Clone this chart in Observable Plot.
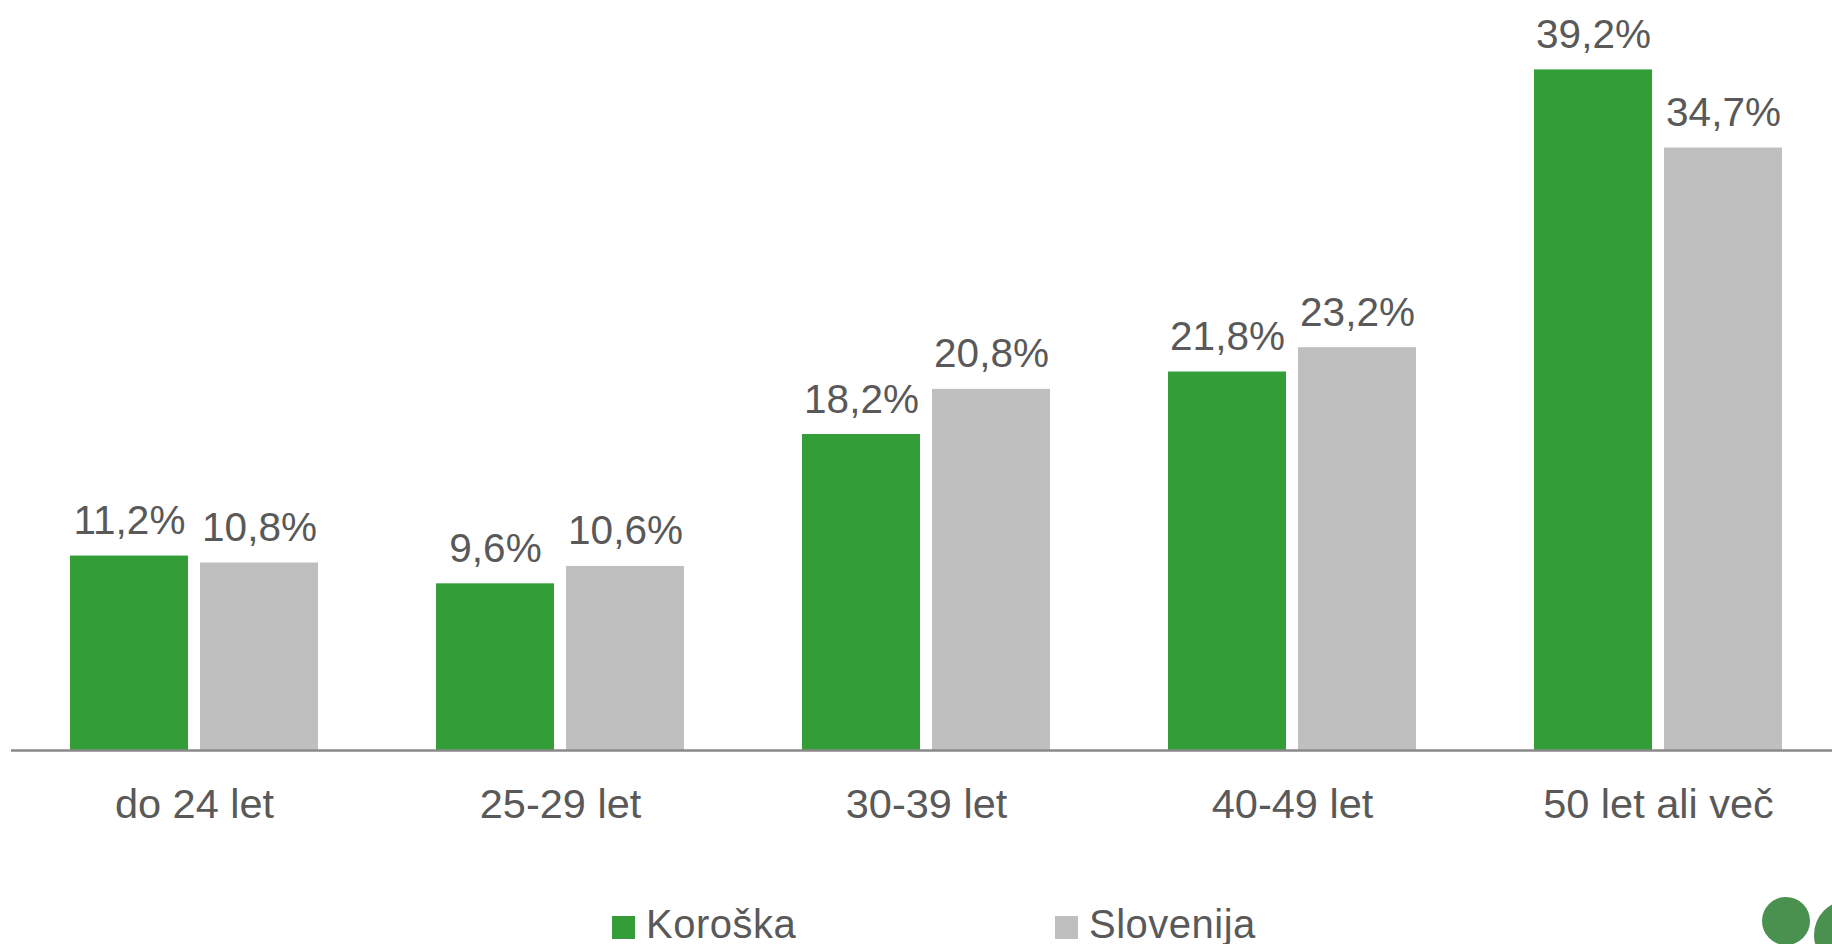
<!DOCTYPE html>
<html>
<head>
<meta charset="utf-8">
<script src="https://cdn.jsdelivr.net/npm/d3@7"></script>
<script src="https://cdn.jsdelivr.net/npm/@observablehq/plot@0.6"></script>
<style>
  html, body { margin: 0; padding: 0; background: #fff; overflow: hidden; }
  #wrap { position: relative; width: 1832px; height: 944px; font-family: "Liberation Sans", Arial, sans-serif; color: #595959; }
  #chart svg { display: block; overflow: visible; }
  .leg { position: absolute; display: flex; align-items: center; font-size: 40px; line-height: 40px; white-space: nowrap; letter-spacing: 0.5px; }
  .leg .sw { width: 23px; height: 23px; margin-right: 11px; margin-top: 6px; }
  .logo { position: absolute; border-radius: 50%; background: #4a9150; }
</style>
</head>
<body>
<div id="wrap">
  <div id="chart"></div>
  <div id="legend"></div>
  <div class="logo" style="left:1762px; top:897px; width:48px; height:48px;"></div>
  <div class="logo" style="left:1814px; top:900px; width:70px; height:70px;"></div>
</div>
<script>
const categories = ["do 24 let", "25-29 let", "30-39 let", "40-49 let", "50 let ali več"];
const series = ["Koroška", "Slovenija"];
const koroska = [11.2, 9.6, 18.2, 21.8, 39.2];
const slovenija = [10.8, 10.6, 20.8, 23.2, 34.7];
const colors = ["#339e37", "#bfbfbf"];

const data = categories.flatMap((c, i) => [
  {cat: c, series: series[0], value: koroska[i]},
  {cat: c, series: series[1], value: slovenija[i]}
]);
const fmt = v => v.toFixed(1).replace(".", ",") + "%";

const chart = Plot.plot({
  width: 1832,
  height: 870,
  marginLeft: 10,
  marginRight: 0,
  marginTop: 23.4,
  marginBottom: 120,
  style: {fontFamily: "'Liberation Sans', Arial, sans-serif", fontSize: "41.5px", color: "#595959", background: "white", overflow: "visible"},
  fx: {domain: categories, range: [10, 1842.5], padding: 0, label: null, tickSize: 0, tickPadding: 38},
  x: {domain: series, paddingInner: 0.094, paddingOuter: 0.449, axis: null},
  y: {domain: [0, 41.85], axis: null},
  color: {domain: series, range: colors},
  marks: [
    Plot.barY(data, {fx: "cat", x: "series", y: "value", fill: "series"}),
    Plot.text(data, {fx: "cat", x: "series", y: "value", text: d => fmt(d.value), lineAnchor: "bottom", dy: -22, fontSize: 40.5, fill: "#595959"}),
    Plot.ruleY([0], {stroke: "#898989", strokeWidth: 2.5})
  ]
});
document.getElementById("chart").appendChild(chart);

const legend = document.getElementById("legend");
const legendLeft = [612, 1055];
series.forEach((s, i) => {
  const item = document.createElement("div");
  item.className = "leg";
  item.style.left = legendLeft[i] + "px";
  item.style.top = "904px";
  const sw = document.createElement("span");
  sw.className = "sw";
  sw.style.background = colors[i];
  const t = document.createElement("span");
  t.textContent = s;
  item.appendChild(sw);
  item.appendChild(t);
  legend.appendChild(item);
});
</script>
</body>
</html>
